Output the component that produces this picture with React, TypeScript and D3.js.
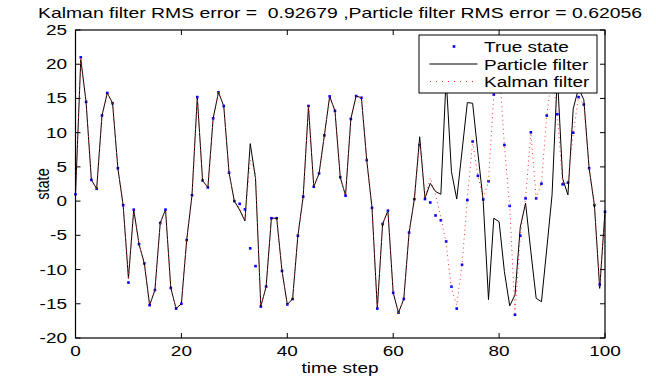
import React from 'react';
import * as d3 from 'd3';

const timeSteps = d3.range(0, 101);

const trueState = [
  1.0, 21.0, 14.5, 3.1, 1.8, 12.5, 15.8, 14.3, 4.8, -0.6,
  -11.9, -1.25, -6.3, -9.1, -15.2, -13.0, -3.2, -1.25, -12.7, -15.7,
  -15.0, -5.7, 0.85, 15.2, 3.0, 2.0, 12.1, 15.9, 13.9, 4.15,
  0.0, -0.4, -1.2, -6.9, -9.5, -15.4, -12.5, -2.5, -2.5, -10.2,
  -15.1, -14.3, -5.05, 0.65, 13.9, 2.1, 4.05, 9.6, 15.3, 13.2,
  3.5, 0.8, 12.0, 15.35, 15.1, 6.0, -1.0, -15.7, -3.35, -1.4,
  -13.4, -16.3, -14.3, -4.6, 0.3, 8.2, 0.3, -0.2, -2.1, -2.8,
  -5.9, -12.5, -15.7, -9.3, 0.15, 8.7, 3.7, 0.25, 2.9, 15.55,
  19.2, 8.2, -0.7, -16.6, -5.05, 0.4, 10.05, 0.4, 2.55, 12.5,
  18.0, 12.7, 2.45, 2.7, 10.0, 15.2, 14.1, 4.8, -0.6, -12.2,
  -1.55,
];

const particleEstimate = [
  1.0, 20.7, 14.5, 3.1, 1.8, 12.5, 15.8, 14.3, 4.8, -0.6,
  -11.3, -1.25, -6.3, -9.1, -15.2, -13.0, -3.2, -1.25, -12.7, -15.7,
  -15.0, -5.7, 0.85, 15.2, 3.0, 2.0, 12.1, 15.9, 13.9, 4.15,
  0.0, -1.3, -2.9, 8.4, 3.3, -15.4, -12.5, -2.5, -2.5, -10.2,
  -15.1, -14.3, -5.05, 0.65, 13.8, 2.1, 4.05, 9.6, 15.3, 13.2,
  3.5, 0.8, 12.0, 15.35, 15.1, 6.0, -1.0, -15.7, -3.35, -1.4,
  -13.4, -16.3, -14.3, -4.6, 0.3, 9.4, 0.4, 2.6, 1.4, 1.0,
  18.0, 4.3, 0.3, 7.3, 14.4, 14.3, 7.0, 0.0, -14.4, -2.5,
  -3.0, -10.3, -15.3, -13.7, -3.8, -0.3, -7.4, -14.2, -14.7, -7.0,
  0.9, 18.5, 3.3, 0.9, 13.5, 16.5, 14.8, 4.8, -0.6, -12.75,
  -1.5,
];

const kalmanEstimate = [
  1.0, 21.0, 14.5, 3.1, 1.8, 12.5, 15.8, 14.3, 4.8, -0.6,
  -11.5, -1.25, -6.3, -9.1, -15.2, -13.0, -3.2, -1.25, -12.7, -15.7,
  -15.0, -5.7, 0.85, 15.2, 3.0, 2.0, 12.1, 15.9, 13.9, 4.15,
  0.0, -1.0, -2.8, 6.0, 4.0, -15.4, -12.5, -2.5, -2.5, -10.2,
  -15.1, -14.3, -5.05, 0.65, 13.9, 2.1, 4.05, 9.6, 15.3, 13.2,
  3.5, 0.8, 12.0, 15.35, 15.1, 6.0, -1.0, -15.7, -3.35, -1.4,
  -13.4, -16.3, -14.3, -4.6, 0.3, 8.6, 0.5, 3.4, 0.9, -2.3,
  -6.2, -12.8, -15.2, -9.3, 0.3, 8.7, 3.7, 0.3, 2.9, 15.5,
  19.5, 8.2, -0.8, -16.4, -5.0, 0.4, 10.0, 0.4, 2.6, 12.5,
  18.5, 12.7, 2.5, 2.7, 10.0, 15.2, 14.1, 4.8, -0.6, -12.4,
  -1.5,
];

const xTicks = [0, 20, 40, 60, 80, 100];
const yTicks = [-20, -15, -10, -5, 0, 5, 10, 15, 20, 25];
const titleText = 'Kalman filter RMS error =  0.92679 ,Particle filter RMS error = 0.62056';
const xLabel = 'time step';
const yLabel = 'state';
const legendLabels = ['True state', 'Particle filter', 'Kalman filter'];

const FONT = '"Liberation Sans", Arial, Helvetica, sans-serif';
const SX = 1.31;

function SText(props: { x: number; y: number; anchor?: string; size?: number; rot?: boolean; children: string }) {
  const { x, y, anchor = 'start', size = 14.5, rot = false, children } = props;
  return (
    <text
      transform={`translate(${x},${y}) scale(${SX},1)${rot ? ' rotate(-90)' : ''}`}
      textAnchor={anchor}
      fontSize={size}
      fontFamily={FONT}
      fill="#000"
      style={{ whiteSpace: 'pre' }}
    >
      {children}
    </text>
  );
}

export default function App() {
  const W = 656;
  const H = 379;
  const L = 75.5, R = 605, T = 30, B = 338;
  const x = d3.scaleLinear().domain([0, 100]).range([L, R]);
  const y = d3.scaleLinear().domain([-20, 25]).range([B, T]);
  const line = d3
    .line<number>()
    .x((_, i) => x(timeSteps[i]))
    .y((d) => y(d));
  const tickLen = 5;

  const legX = 419, legY = 35, legW = 178, legH = 58;
  const rows = [46.5, 64, 81.5];

  return (
    <svg
      width={W}
      height={H}
      style={{ position: 'absolute', left: 0, top: 0, background: '#fff' }}
    >
      <rect x={0} y={0} width={W} height={H} fill="#fff" />
      {trueState.map((d, i) => (
        <rect key={i} x={x(timeSteps[i]) - 1.3} y={y(d) - 1.3} width={2.6} height={2.6} fill="#0000ff" />
      ))}
      <path d={line(particleEstimate) || ''} fill="none" stroke="#000" strokeWidth={1} />
      <path
        d={line(kalmanEstimate) || ''}
        fill="none"
        stroke="#ff3030"
        strokeWidth={1}
        strokeDasharray="1,3.5"
      />
      <rect x={L} y={T} width={R - L} height={B - T} fill="none" stroke="#000" strokeWidth={1.2} />
      {xTicks.map((t) => (
        <g key={'x' + t}>
          <line x1={x(t)} x2={x(t)} y1={B} y2={B - tickLen} stroke="#000" />
          <line x1={x(t)} x2={x(t)} y1={T} y2={T + tickLen} stroke="#000" />
          <SText x={x(t)} y={356} anchor="middle">{String(t)}</SText>
        </g>
      ))}
      {yTicks.map((t) => (
        <g key={'y' + t}>
          <line x1={L} x2={L + tickLen} y1={y(t)} y2={y(t)} stroke="#000" />
          <line x1={R} x2={R - tickLen} y1={y(t)} y2={y(t)} stroke="#000" />
          <SText x={67} y={y(t) + 5} anchor="end">{String(t)}</SText>
        </g>
      ))}
      <SText x={340} y={18} anchor="middle" size={14.8}>{titleText}</SText>
      <SText x={340} y={373} anchor="middle">{xLabel}</SText>
      <SText x={49} y={184} anchor="middle" rot>{yLabel}</SText>
      <rect x={legX} y={legY} width={legW} height={legH} fill="#fff" stroke="#000" strokeWidth={1} />
      <rect x={454 - 1.3} y={rows[0] - 1.3} width={2.6} height={2.6} fill="#0000ff" />
      <line x1={429.5} x2={477.5} y1={rows[1]} y2={rows[1]} stroke="#000" strokeWidth={1} />
      <line
        x1={430}
        x2={477}
        y1={rows[2]}
        y2={rows[2]}
        stroke="#ff3030"
        strokeWidth={1}
        strokeDasharray="1,5"
      />
      {legendLabels.map((lab, i) => (
        <SText key={lab} x={484} y={rows[i] + 5.5}>{lab}</SText>
      ))}
    </svg>
  );
}
